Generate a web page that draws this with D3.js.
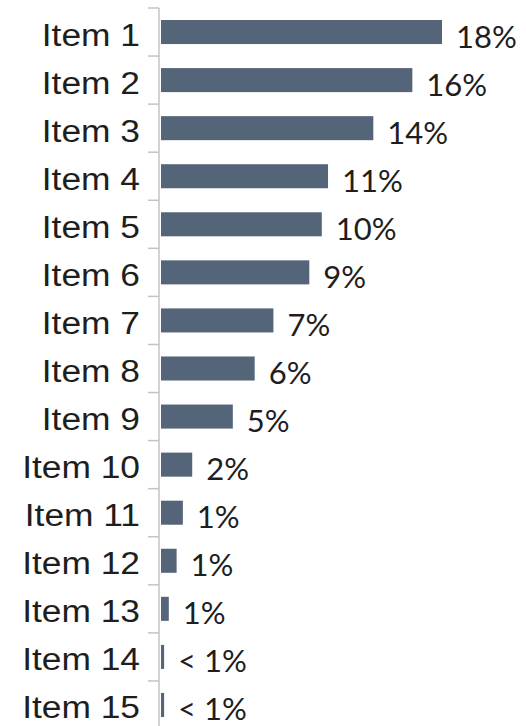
<!DOCTYPE html>
<html>
<head>
<meta charset="utf-8">
<script src="https://cdn.jsdelivr.net/npm/d3@7"></script>
<style>
  html, body { margin: 0; padding: 0; background: #ffffff; }
  svg { display: block; }
</style>
</head>
<body>
<svg id="chart" width="526" height="726"></svg>
<script>
// ---- data ----
const categories = ["Item 1","Item 2","Item 3","Item 4","Item 5","Item 6","Item 7","Item 8","Item 9","Item 10","Item 11","Item 12","Item 13","Item 14","Item 15"];
const values = [18, 16.1, 13.6, 10.7, 10.3, 9.5, 7.2, 6.0, 4.6, 2.0, 1.4, 1.0, 0.5, 0.2, 0.2];
const valueLabels = ["18%","16%","14%","11%","10%","9%","7%","6%","5%","2%","1%","1%","1%","< 1%","< 1%"];

// ---- layout ----
const svg = d3.select("#chart");
const axisX = 159;

const y = d3.scaleBand().domain(categories).range([8, 729]).padding(0);
const step = y.step();
const x = d3.scaleLinear().domain([0, 18]).range([161, 442]);

const rows = categories.map((c, i) => ({ c, v: values[i], l: valueLabels[i] }));

// bars
svg.append("g").selectAll("rect").data(rows).join("rect")
  .attr("x", x(0))
  .attr("y", d => y(d.c) + step * 0.25)
  .attr("width", d => x(d.v) - x(0))
  .attr("height", step * 0.5)
  .attr("fill", "#546479");

// axis line + ticks at band boundaries
const axisColor = "#c4c4c4";
svg.append("line")
  .attr("x1", axisX).attr("x2", axisX)
  .attr("y1", y.range()[0]).attr("y2", y.range()[1])
  .attr("stroke", axisColor).attr("stroke-width", 1.5);
const bounds = categories.map(c => y(c)).concat([y.range()[1]]);
svg.append("g").selectAll("line").data(bounds).join("line")
  .attr("x1", axisX - 11).attr("x2", axisX)
  .attr("y1", d => d).attr("y2", d => d)
  .attr("stroke", axisColor).attr("stroke-width", 1.5);

// category labels
svg.append("g").selectAll("text").data(rows).join("text")
  .attr("transform", d => `translate(140,${y(d.c) + 37.5}) scale(1.14,1)`)
  .attr("text-anchor", "end")
  .attr("font-family", "'Liberation Sans', Arial, sans-serif")
  .attr("font-size", 31)
  .attr("fill", "#1e1e1e")
  .text(d => d.c);

// value labels
svg.append("g").selectAll("text").data(rows).join("text")
  .attr("transform", d => `translate(${x(d.v) + 14},${y(d.c) + 39.5})`)
  .attr("font-family", "Lato, 'Noto Sans', sans-serif")
  .attr("font-size", 31)
  .attr("fill", "#1e1e1e")
  .text(d => d.l);
</script>
</body>
</html>
